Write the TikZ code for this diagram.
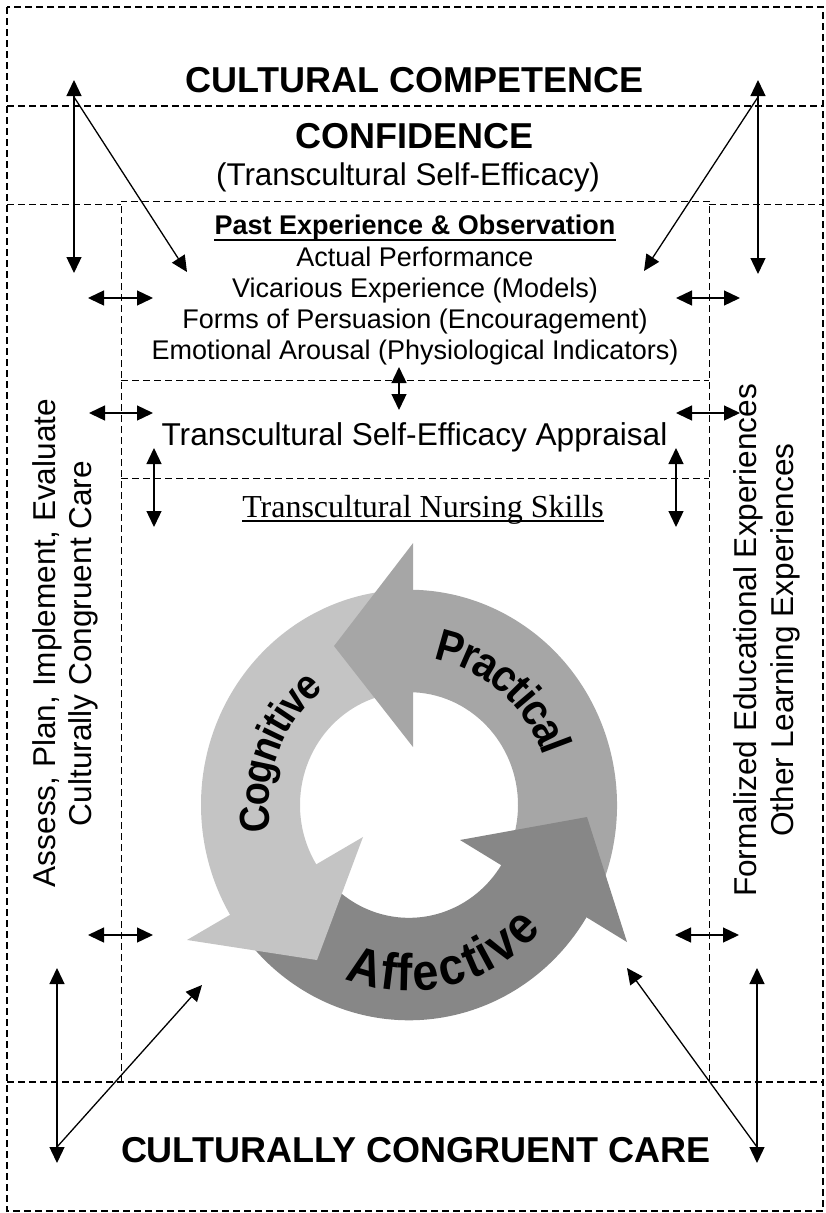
\documentclass[tikz,border=0pt]{standalone}
\usepackage{fontspec}
\setmainfont{Liberation Sans}
\newfontfamily\timesf{Liberation Serif}
\newfontfamily\arcfont[FakeStretch=0.9]{Liberation Sans}
\usetikzlibrary{arrows.meta,decorations.text}
\definecolor{cogc}{HTML}{C4C4C4}
\definecolor{pracc}{HTML}{A6A6A6}
\definecolor{affc}{HTML}{878787}
\tikzset{
  dashbox/.style={draw, dash pattern=on 7pt off 4pt, line width=1.3pt},
  thinbox/.style={draw, dash pattern=on 7pt off 4pt, line width=1pt},
  both/.style={line width=1.3pt, {Triangle[length=16pt,width=15pt]}-{Triangle[length=16pt,width=15pt]}},
  oneway/.style={line width=1.3pt, -{Triangle[length=16pt,width=15pt]}},
  lbl/.style={inner sep=0pt, anchor=base},
  big/.style={lbl, font=\bfseries\fontsize{36}{40}\selectfont},
  mid/.style={lbl, font=\fontsize{27}{31}\selectfont},
  side/.style={inner sep=0pt, anchor=base, rotate=90, font=\fontsize{31.6}{36}\selectfont},
}
\begin{document}
\begin{tikzpicture}[x=1pt,y=-1pt]
\useasboundingbox (0,0) rectangle (826,1213);
% frames
\draw[dashbox] (7,7) rectangle (823,1211);
\draw[dashbox] (7,106) -- (823,106);
\draw[dashbox] (7,1082) -- (823,1082);
\draw[thinbox] (7,204) -- (121,204);
\draw[thinbox] (709,204) -- (823,204);
\draw[thinbox] (121,1082) -- (121,201) -- (709,201) -- (709,1082);
\draw[thinbox] (121,380) -- (709,380);
\draw[thinbox] (121,478) -- (709,478);

% cycle
\begin{scope}[shift={(409,805)}, y=1.035pt]
  % bodies
  \fill[cogc] (95:208) arc[start angle=95, end angle=213, radius=208]
     -- (213:109) arc[start angle=213, end angle=95, radius=109] -- cycle;
  \fill[pracc] (-28:208) arc[start angle=-28, end angle=90, radius=208]
     -- (90:109) arc[start angle=90, end angle=-28, radius=109] -- cycle;
  \fill[affc] (218:208) arc[start angle=218, end angle=329, radius=208]
     -- (329:109) arc[start angle=329, end angle=218, radius=109] -- cycle;
  % heads
  \fill[pracc] (4,56) -- (4,253) -- (-75,153.6) -- cycle;
  \fill[affc] (51,-33.8) -- (218,-132.4) -- (178,-11.6) -- cycle;
  \fill[cogc] (-46,-30.9) -- (-222,-130.4) -- (-92,-149.8) -- cycle;
  % curved labels
  \path[decorate, decoration={text along path, text align=center, raise=-16pt,
     text={|\arcfont\bfseries\fontsize{45}{45}\selectfont|Practical}}]
     (112:158) arc[start angle=112, end angle=-12, radius=158];
  \path[decorate, decoration={text along path, text align=center, raise=-15pt,
     text={|\arcfont\bfseries\fontsize{42}{42}\selectfont|Cognitive}}]
     (220:155) arc[start angle=220, end angle=97, radius=155];
  \path[decorate, decoration={text along path, text align=center, raise=-18pt,
     text={|\arcfont\bfseries\fontsize{52}{52}\selectfont|Affective}}]
     (219:162) arc[start angle=219, end angle=347, radius=162];
\end{scope}

% texts
\node[big] (cc) at (414.5,92) {CULTURAL COMPETENCE};
\node[big] (conf) at (415,148) {CONFIDENCE};
\node[lbl, font=\fontsize{31.4}{36}\selectfont] (tse) at (408,185) {(Transcultural Self-Efficacy)};
\node[mid, font=\bfseries\fontsize{27}{31}\selectfont] (pe) at (415,234.7) {Past Experience \& Observation};
\draw[line width=2pt] ([yshift=-5.5pt]pe.base west) -- ([yshift=-5.5pt]pe.base east);
\node[mid] (ap) at (415,266) {Actual Performance};
\node[mid] (ve) at (415,297.3) {Vicarious Experience (Models)};
\node[mid] (fp) at (415,328.6) {Forms of Persuasion (Encouragement)};
\node[mid] (ea) at (415,359.9) {Emotional Arousal (Physiological Indicators)};
\node[lbl, font=\fontsize{31.6}{36}\selectfont] (apr) at (414.5,445) {Transcultural Self-Efficacy Appraisal};
\node[lbl, font=\timesf\fontsize{32}{36}\selectfont] (nsk) at (423,517) {Transcultural Nursing Skills};
\draw[line width=1.3pt] ([yshift=-4pt]nsk.base west) -- ([yshift=-4pt]nsk.base east);
\node[big] (ccc) at (416,1162) {CULTURALLY CONGRUENT CARE};
\node[side] (l1) at (55,643) {Assess, Plan, Implement, Evaluate};
\node[side] (l2) at (91.3,643.5) {Culturally Congruent Care};
\node[side] (r1) at (756.7,640.5) {Formalized Educational Experiences};
\node[side] (r2) at (793,640) {Other Learning Experiences};

% arrow end points
\coordinate (tl1) at (74,80);   \coordinate (tl2) at (74,273);
\coordinate (tl3) at (74,97);   \coordinate (tl4) at (187,272);
\coordinate (tr1) at (758,80);  \coordinate (tr2) at (758,274);
\coordinate (tr3) at (758,97);  \coordinate (tr4) at (644,271);
\coordinate (h1a) at (88,298);  \coordinate (h1b) at (153,298);
\coordinate (h2a) at (676,298); \coordinate (h2b) at (740,298);
\coordinate (h3a) at (89,413);  \coordinate (h3b) at (153,413);
\coordinate (h4a) at (676,413); \coordinate (h4b) at (740,413);
\coordinate (h5a) at (88,935);  \coordinate (h5b) at (153,935);
\coordinate (h6a) at (675,935); \coordinate (h6b) at (739,935);
\coordinate (vca) at (399,367); \coordinate (vcb) at (399,410);
\coordinate (vla) at (154,448); \coordinate (vlb) at (154,527);
\coordinate (vra) at (676,448); \coordinate (vrb) at (676,527);
\coordinate (bl1) at (57,968);  \coordinate (bl2) at (57,1163);
\coordinate (bl3) at (57,1147); \coordinate (bl4) at (202,985);
\coordinate (br1) at (757,968); \coordinate (br2) at (757,1163);
\coordinate (br3) at (757,1147);\coordinate (br4) at (627,968);

\draw[both] (tl1) -- (tl2);
\draw[oneway] (tl3) -- (tl4);
\draw[both] (tr1) -- (tr2);
\draw[oneway] (tr3) -- (tr4);
\draw[both] (h1a) -- (h1b);
\draw[both] (h2a) -- (h2b);
\draw[both] (h3a) -- (h3b);
\draw[both] (h4a) -- (h4b);
\draw[both] (h5a) -- (h5b);
\draw[both] (h6a) -- (h6b);
\draw[both] (vca) -- (vcb);
\draw[both] (vla) -- (vlb);
\draw[both] (vra) -- (vrb);
\draw[both] (bl1) -- (bl2);
\draw[oneway] (bl3) -- (bl4);
\draw[both] (br1) -- (br2);
\draw[oneway] (br3) -- (br4);
\end{tikzpicture}
\end{document}
